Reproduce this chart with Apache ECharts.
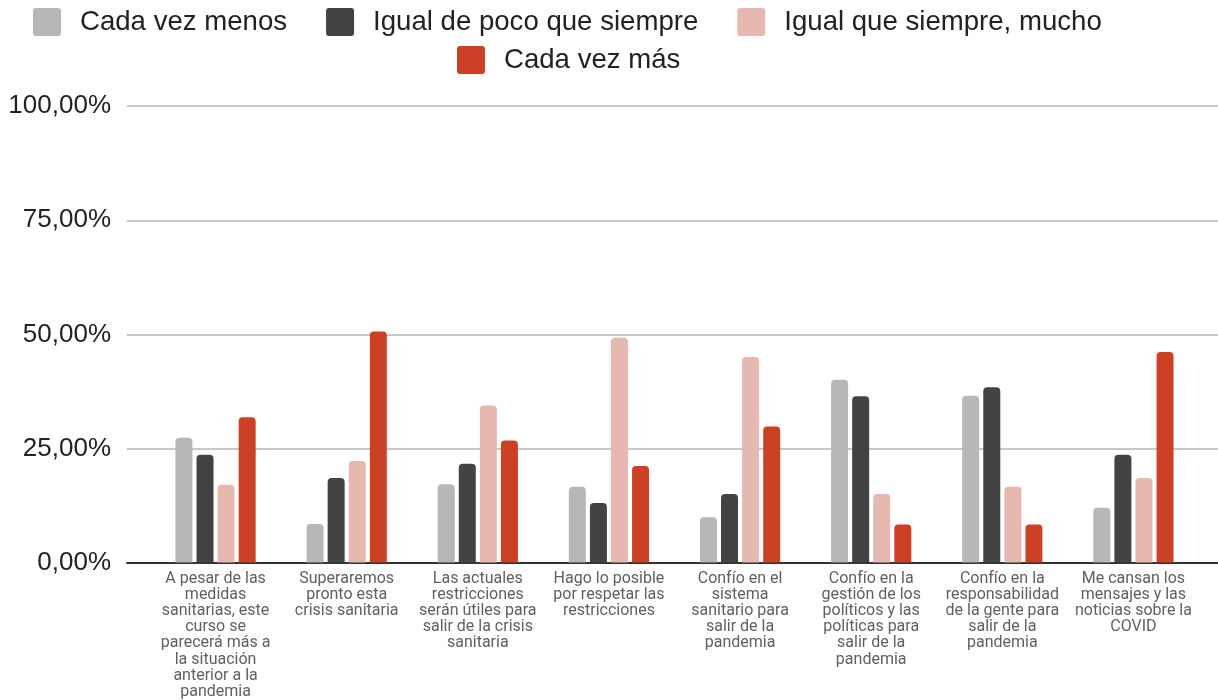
<!DOCTYPE html>
<html>
<head>
<meta charset="utf-8">
<script src="https://cdn.jsdelivr.net/npm/echarts@6/dist/echarts.min.js"></script>
<style>
html,body{margin:0;padding:0;background:#fff;}
#chart{width:1218px;height:700px;}
</style>
</head>
<body>
<div id="chart"></div>
<script>
const categories = [
  "A pesar de las\nmedidas\nsanitarias, este\ncurso se\nparecerá más a\nla situación\nanterior a la\npandemia",
  "Superaremos\npronto esta\ncrisis sanitaria",
  "Las actuales\nrestricciones\nserán útiles para\nsalir de la crisis\nsanitaria",
  "Hago lo posible\npor respetar las\nrestricciones",
  "Confío en el\nsistema\nsanitario para\nsalir de la\npandemia",
  "Confío en la\ngestión de los\npolíticos y las\npolíticas para\nsalir de la\npandemia",
  "Confío en la\nresponsabilidad\nde la gente para\nsalir de la\npandemia",
  "Me cansan los\nmensajes y las\nnoticias sobre la\nCOVID"
];
const seriesNames = ["Cada vez menos", "Igual de poco que siempre", "Igual que siempre, mucho", "Cada vez más"];
const cadaVezMenos = [27.3, 8.4, 17.1, 16.6, 9.9, 40.0, 36.5, 12.0];
const igualDePoco = [23.6, 18.5, 21.6, 13.0, 15.0, 36.4, 38.4, 23.6];
const igualMucho = [17.0, 22.2, 34.4, 49.2, 45.0, 15.0, 16.6, 18.5];
const cadaVezMas = [31.8, 50.6, 26.7, 21.1, 29.8, 8.3, 8.3, 46.1];
const yTicks = [0, 25, 50, 75, 100];
const colors = ["#b7b7b7", "#434343", "#e6b8af", "#cc4125"];

const chart = echarts.init(document.getElementById('chart'), null, {renderer: 'canvas'});
const values = [cadaVezMenos, igualDePoco, igualMucho, cadaVezMas];

const legendText = {fontFamily: 'Liberation Sans', fontSize: 27.6, color: '#222', padding: [0, 0, 0, 14]};
const legendIcon = 'path://M3,0H25Q28,0 28,3V25Q28,28 25,28H3Q0,28 0,25V3Q0,0 3,0Z';

const option = {
  backgroundColor: '#fff',
  animation: false,
  color: colors,
  legend: [
    {
      data: seriesNames.slice(0, 3),
      left: 33, top: 8, padding: 0,
      itemWidth: 28, itemHeight: 28, itemGap: 39,
      icon: legendIcon,
      textStyle: legendText
    },
    {
      data: seriesNames.slice(3),
      left: 457, top: 46, padding: 0,
      itemWidth: 28, itemHeight: 28, itemGap: 39,
      icon: legendIcon,
      textStyle: legendText
    }
  ],
  grid: [
    {left: 127, right: 0, top: 106, bottom: 137},
    {left: 150, right: 19, top: 106, bottom: 137}
  ],
  xAxis: [
    {
      type: 'value', gridIndex: 0, min: 0, max: 1,
      axisLine: {show: true, onZero: false, lineStyle: {color: '#333', width: 2}},
      axisTick: {show: false}, axisLabel: {show: false}, splitLine: {show: false}
    },
    {
      type: 'category', gridIndex: 1, data: categories,
      axisLine: {show: false}, axisTick: {show: false},
      axisLabel: {
        interval: 0, margin: 8, fontFamily: 'Roboto', fontSize: 16,
        color: '#5f5f5f', lineHeight: 16.2, align: 'center', verticalAlign: 'top'
      }
    }
  ],
  yAxis: [
    {
      type: 'value', gridIndex: 0, min: yTicks[0], max: yTicks[yTicks.length - 1], interval: 25,
      axisLine: {show: false}, axisTick: {show: false},
      axisLabel: {
        margin: 16, fontFamily: 'Liberation Sans', fontSize: 26, color: '#222',
        formatter: v => v.toFixed(2).replace('.', ',') + '%'
      },
      splitLine: {lineStyle: {color: '#c8c8c8', width: 2}}
    },
    {
      type: 'value', gridIndex: 1, min: 0, max: 100, show: false,
      splitLine: {show: false}
    }
  ],
  series: seriesNames.map((name, i) => ({
    name: name,
    type: 'bar',
    xAxisIndex: 1, yAxisIndex: 1,
    data: values[i],
    barWidth: 17,
    barGap: '24%',
    itemStyle: {color: colors[i], borderRadius: [4, 4, 0, 0]}
  }))
};
chart.setOption(option);
</script>
</body>
</html>
